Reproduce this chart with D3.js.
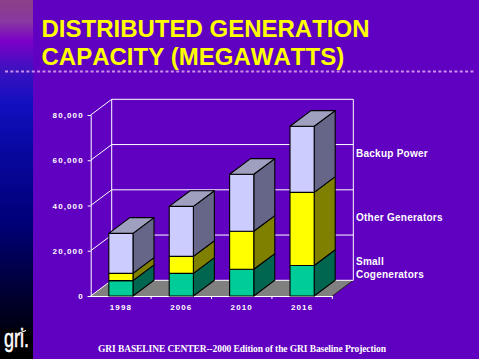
<!DOCTYPE html>
<html>
<head>
<meta charset="utf-8">
<script src="https://cdn.jsdelivr.net/npm/d3@7"></script>
<style>
  html, body { margin: 0; padding: 0; background: #6000C0; }
  svg { display: block; }
  .tick-label { font-family: "Liberation Sans", Arial, sans-serif; font-size: 8px; font-weight: bold; letter-spacing: 1.1px; fill: #fff; }
  .legend { font-family: "Liberation Sans", Arial, sans-serif; font-size: 10px; font-weight: bold; letter-spacing: 0.25px; fill: #fff; }
</style>
</head>
<body>
<div id="chart"></div>
<script>
const years = ["1998", "2006", "2010", "2016"];
const smallCogen = [6800, 10000, 11800, 13500];
const otherGen = [3200, 7500, 16800, 32300];
const backupPower = [17700, 22100, 25200, 29200];
const yTicks = [0, 20000, 40000, 60000, 80000];
const seriesKeys = ["small", "other", "backup"];

const titleLines = ["DISTRIBUTED GENERATION", "CAPACITY (MEGAWATTS)"];
const footer = "GRI BASELINE CENTER--2000 Edition of the GRI Baseline Projection";

const frontColor = { small: "#00CC99", other: "#FFFF00", backup: "#CCCCFF" };
const sideColor = { small: "#006650", other: "#808000", backup: "#666688" };
const topColor = "#9F9FC0";

const width = 479, height = 359;
const plot = { left: 90.7, right: 332.3, bottom: 296, top: 115 };
const depth = { x: 21, y: -15.7 };

const svg = d3.select("#chart").append("svg")
  .attr("width", width)
  .attr("height", height);

svg.append("rect").attr("width", width).attr("height", height).attr("fill", "#6000C0");

// left strip
const grad = svg.append("defs").append("linearGradient")
  .attr("id", "strip").attr("x1", 0).attr("y1", 0).attr("x2", 0).attr("y2", 1);
[[0, "#8C4088"], [0.06, "#8838A0"], [0.115, "#7C00C8"], [0.19, "#4010C0"], [0.29, "#1010C0"],
 [0.42, "#0808A0"], [0.62, "#000078"], [0.8, "#000038"], [0.92, "#000010"], [1, "#000000"]]
  .forEach(s => grad.append("stop").attr("offset", s[0]).attr("stop-color", s[1]));
svg.append("rect").attr("width", 33).attr("height", height).attr("fill", "url(#strip)");

// logo
svg.append("rect").attr("x", 3).attr("y", 329).attr("width", 27).attr("height", 27).attr("fill", "#000");
svg.append("text")
  .attr("x", 4).attr("y", 347)
  .attr("textLength", 25).attr("lengthAdjust", "spacingAndGlyphs")
  .style("font-family", "'Liberation Sans', Arial, sans-serif")
  .style("font-size", "26px")
  .style("fill", "#fff")
  .style("stroke", "#fff")
  .style("stroke-width", 0.5)
  .text("gri.");
svg.append("line")
  .attr("x1", 18).attr("y1", 333.5).attr("x2", 26).attr("y2", 330.5)
  .attr("stroke", "#fff").attr("stroke-width", 1.2);

// title
svg.selectAll(".title").data(titleLines).enter().append("text")
  .attr("class", "title")
  .attr("x", 41.5)
  .attr("y", (d, i) => 36.5 + i * 28)
  .style("font-family", "'Liberation Sans', Arial, sans-serif")
  .style("font-size", "24px")
  .style("font-weight", "bold")
  .style("font-kerning", "none")
  .style("fill", "#FFFF00")
  .text(d => d);

svg.append("line")
  .attr("x1", 5).attr("x2", 474).attr("y1", 71.5).attr("y2", 71.5)
  .attr("stroke", "#C890E8").attr("stroke-width", 2).attr("stroke-dasharray", "3 2.35");

const x = d3.scaleBand().domain(years).range([plot.left, plot.right]).paddingInner(0.6).paddingOuter(0.3);
const xEdges = d3.scaleBand().domain(years).range([plot.left, plot.right]);
const y = d3.scaleLinear().domain([0, 80000]).range([plot.bottom, plot.top]);

const rows = years.map((year, i) => ({ year, small: smallCogen[i], other: otherGen[i], backup: backupPower[i] }));
const stacked = d3.stack().keys(seriesKeys)(rows);

const poly = d3.line();

// floor
svg.append("path")
  .attr("d", poly([[plot.left, plot.bottom], [plot.right, plot.bottom],
    [plot.right + depth.x, plot.bottom + depth.y], [plot.left + depth.x, plot.bottom + depth.y]]) + "Z")
  .attr("fill", "#808080");
svg.append("line")
  .attr("x1", plot.right).attr("y1", plot.bottom)
  .attr("x2", plot.right + depth.x).attr("y2", plot.bottom + depth.y)
  .attr("stroke", "#222").attr("stroke-width", 1);

// walls and gridlines
const grid = svg.append("g").attr("fill", "none").attr("stroke", "#fff").attr("stroke-width", 1);
yTicks.forEach(t => {
  grid.append("path").attr("d", poly([
    [plot.left, y(t)],
    [plot.left + depth.x, y(t) + depth.y],
    [plot.right + depth.x, y(t) + depth.y]
  ]));
});
grid.append("line")
  .attr("x1", plot.left + depth.x).attr("x2", plot.left + depth.x)
  .attr("y1", y(80000) + depth.y).attr("y2", y(0) + depth.y);
grid.append("line")
  .attr("x1", plot.right + depth.x).attr("x2", plot.right + depth.x)
  .attr("y1", y(80000) + depth.y).attr("y2", y(0) + depth.y);

// left axis
const yAxis = svg.append("g")
  .attr("transform", `translate(${plot.left},0)`)
  .call(d3.axisLeft(y).tickValues(yTicks).tickFormat(d3.format(",")).tickSize(3).tickPadding(4));
yAxis.selectAll("line, path").attr("stroke", "#fff");
yAxis.selectAll("text").attr("class", "tick-label").attr("font-family", null).attr("font-size", null);

// bottom axis, ticks sit on the band edges
const xAxis = svg.append("g")
  .attr("transform", `translate(0,${plot.bottom})`)
  .call(d3.axisBottom(x).tickSize(0).tickPadding(8));
xAxis.select("path").attr("stroke", "#fff");
xAxis.selectAll("text").attr("class", "tick-label").attr("font-family", null).attr("font-size", null);
xAxis.selectAll(".edge").data(years).enter().append("line")
  .attr("class", "edge")
  .attr("x1", d => xEdges(d) + xEdges.bandwidth()).attr("x2", d => xEdges(d) + xEdges.bandwidth())
  .attr("y1", 0).attr("y2", 3)
  .attr("stroke", "#fff");

// bars
const bars = svg.append("g").attr("stroke", "#000").attr("stroke-width", 1.1).attr("stroke-linejoin", "round");
years.forEach((year, i) => {
  const x0 = x(year), x1 = x0 + x.bandwidth();
  stacked.forEach(layer => {
    const yLow = y(layer[i][0]), yHigh = y(layer[i][1]);
    bars.append("path")
      .attr("d", poly([[x1, yLow], [x1 + depth.x, yLow + depth.y], [x1 + depth.x, yHigh + depth.y], [x1, yHigh]]) + "Z")
      .attr("fill", sideColor[layer.key]);
    bars.append("rect")
      .attr("x", x0).attr("y", yHigh)
      .attr("width", x.bandwidth()).attr("height", yLow - yHigh)
      .attr("fill", frontColor[layer.key]);
  });
  const yTop = y(stacked[stacked.length - 1][i][1]);
  bars.append("path")
    .attr("d", poly([[x0, yTop], [x1, yTop], [x1 + depth.x, yTop + depth.y], [x0 + depth.x, yTop + depth.y]]) + "Z")
    .attr("fill", topColor);
});

// series labels on the right
const legendLines = [["Backup Power", 157], ["Other Generators", 220.5], ["Small", 264.5], ["Cogenerators", 278]];
svg.selectAll(".legend").data(legendLines).enter().append("text")
  .attr("class", "legend")
  .attr("x", 356)
  .attr("y", d => d[1])
  .text(d => d[0]);

svg.append("text")
  .attr("x", 98).attr("y", 351.5)
  .attr("textLength", 288)
  .style("font-family", "'Liberation Serif', 'Times New Roman', serif")
  .style("font-size", "9.5px")
  .style("font-weight", "bold")
  .style("fill", "#fff")
  .text(footer);
</script>
</body>
</html>
